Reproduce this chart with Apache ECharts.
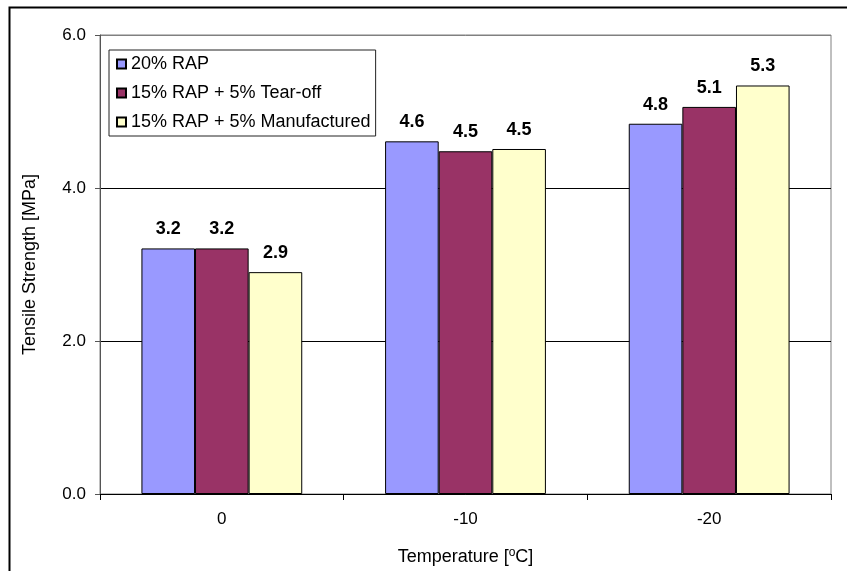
<!DOCTYPE html>
<html>
<head>
<meta charset="utf-8">
<script src="https://cdn.jsdelivr.net/npm/echarts@6/dist/echarts.min.js"></script>
<style>
  html, body { margin: 0; padding: 0; background: #fff; }
  #chart { width: 847px; height: 571px; }
</style>
</head>
<body>
<div id="chart"></div>
<script>
// Test temperatures (x axis categories)
const temperatures = ['0', '-10', '-20'];

// Indirect tensile strength per mix, MPa
const seriesNames = ['20% RAP', '15% RAP + 5% Tear-off', '15% RAP + 5% Manufactured'];
const rap20 = [3.21, 4.61, 4.84];
const tearOff = [3.21, 4.48, 5.06];
const manufactured = [2.90, 4.51, 5.34];

// Y axis ticks
const yMin = 0, yMax = 6, yStep = 2;

const seriesValues = [rap20, tearOff, manufactured];
const seriesColors = ['#9999FF', '#993366', '#FFFFCC'];
const FONT = '"Liberation Sans", Arial, sans-serif';

const chart = echarts.init(document.getElementById('chart'), null, { renderer: 'canvas' });

chart.setOption({
  backgroundColor: '#ffffff',
  animation: false,
  textStyle: { fontFamily: FONT },
  graphic: [{
    type: 'rect',
    left: 7, top: 5,
    shape: { x: 0, y: 0, width: 900, height: 700 },
    style: { fill: 'none', stroke: '#000', lineWidth: 2 },
    silent: true,
    z: -1
  }],
  grid: {
    left: 100, right: 16, top: 35, bottom: 77,
    show: true, borderColor: '#808080', borderWidth: 1,
    backgroundColor: '#ffffff'
  },
  legend: {
    orient: 'vertical',
    left: 109, top: 50,
    data: seriesNames,
    icon: 'rect',
    itemWidth: 9, itemHeight: 9,
    itemGap: 11,
    padding: [5, 5, 5, 7],
    backgroundColor: '#ffffff',
    borderColor: '#222',
    borderWidth: 1,
    textStyle: { fontFamily: FONT, fontSize: 18, color: '#000', lineHeight: 18 }
  },
  xAxis: {
    type: 'category',
    data: temperatures,
    name: 'Temperature [{sup|o}C]',
    nameLocation: 'middle',
    nameGap: 53,
    nameTextStyle: {
      fontFamily: FONT, fontSize: 18, color: '#000',
      rich: { sup: { fontFamily: FONT, fontSize: 12, verticalAlign: 'top', padding: [0, 0, 8, 0], color: '#000' } }
    },
    axisLine: { lineStyle: { color: '#000', width: 1 } },
    axisTick: { show: true, length: 6, lineStyle: { color: '#000' } },
    axisLabel: { fontFamily: FONT, fontSize: 17, color: '#000', margin: 17 },
    splitLine: { show: false }
  },
  yAxis: {
    type: 'value',
    min: yMin, max: yMax, interval: yStep,
    name: 'Tensile Strength [MPa]',
    nameLocation: 'middle',
    nameGap: 61,
    nameTextStyle: { fontFamily: FONT, fontSize: 18, color: '#000' },
    axisLine: { show: true, lineStyle: { color: '#555', width: 1 } },
    axisTick: { show: true, length: 5, lineStyle: { color: '#555' } },
    axisLabel: {
      fontFamily: FONT, fontSize: 17, color: '#000', margin: 14,
      formatter: v => v.toFixed(1)
    },
    splitLine: { show: true, lineStyle: { color: ['#000', '#000', '#000', '#808080'], width: 1 } }
  },
  series: seriesNames.map((name, i) => ({
    name,
    type: 'bar',
    data: seriesValues[i],
    barGap: '0%',
    barCategoryGap: '34%',
    itemStyle: { color: seriesColors[i], borderColor: '#000', borderWidth: 1 },
    label: {
      show: true,
      position: 'top',
      distance: 10,
      fontFamily: FONT,
      fontSize: 18,
      fontWeight: 'bold',
      color: '#000',
      formatter: p => p.value.toFixed(1)
    }
  }))
});
</script>
</body>
</html>
